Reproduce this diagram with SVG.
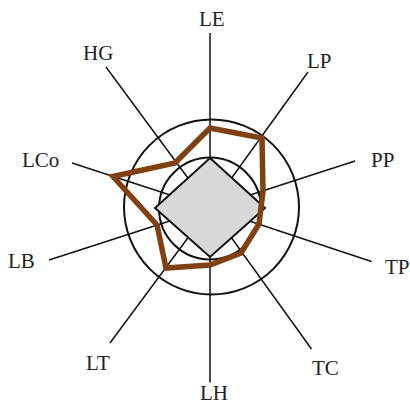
<svg xmlns="http://www.w3.org/2000/svg" width="410" height="405" viewBox="0 0 410 405">
<style>
.ax{stroke:#111;stroke-width:1.5;fill:none}
.ring{stroke:#111;stroke-width:2;fill:none}
.lbl{font-family:"Liberation Serif","Times New Roman",serif;font-size:21px;fill:#222}
</style>
<rect width="410" height="405" fill="#fff"/>
<g id="connectors">
<line class="ax" x1="210" y1="208" x2="210" y2="33"/>
<line class="ax" x1="210" y1="208" x2="308" y2="72"/>
<line class="ax" x1="210" y1="208" x2="355" y2="161"/>
<line class="ax" x1="210" y1="208" x2="371.5" y2="261.5"/>
<line class="ax" x1="210" y1="208" x2="311.5" y2="349"/>
<line class="ax" x1="210" y1="208" x2="210" y2="382.5"/>
<line class="ax" x1="210" y1="208" x2="110" y2="343"/>
<line class="ax" x1="210" y1="208" x2="49" y2="260"/>
<line class="ax" x1="210" y1="208" x2="72" y2="163"/>
<line class="ax" x1="210" y1="208" x2="106" y2="67"/>
</g>
<g id="rings">
<circle class="ring" cx="211.5" cy="207" r="87.5"/>
<circle class="ring" cx="210" cy="208.5" r="51"/>
</g>
<g id="diamond">
<polygon points="210,158 265,208 210,257 155,208" fill="#d8d8d8" stroke="#111" stroke-width="2"/>
</g>
<g id="profile">
<polygon points="210,128 262,138 263,191 259,224 241,253 210,265 166,268 157,225 113,176.5 175,163" fill="none" stroke="#80400f" stroke-width="5.5" stroke-linejoin="miter"/>
</g>
<g id="labels">
<g id="LE"><text class="lbl" x="199" y="26">LE</text></g>
<g id="LP"><text class="lbl" x="307" y="68">LP</text></g>
<g id="PP"><text class="lbl" x="371" y="167">PP</text></g>
<g id="TP"><text class="lbl" x="385" y="274">TP</text></g>
<g id="TC"><text class="lbl" x="312" y="375">TC</text></g>
<g id="LH"><text class="lbl" x="200" y="400">LH</text></g>
<g id="LT"><text class="lbl" x="86" y="370">LT</text></g>
<g id="LB"><text class="lbl" x="8" y="268">LB</text></g>
<g id="LCo"><text class="lbl" x="22" y="167">LCo</text></g>
<g id="HG"><text class="lbl" x="83" y="60">HG</text></g>
</g>
</svg>
